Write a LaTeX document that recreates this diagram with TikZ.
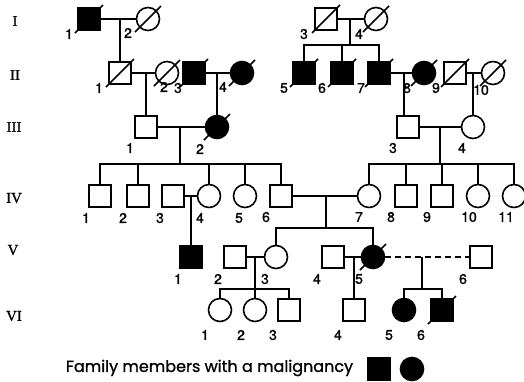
\documentclass[tikz,border=0pt]{standalone}
\usepackage{fontspec}
\setmainfont{TeX Gyre Heros}
\newfontfamily\numfont[FakeBold=1.3]{TeX Gyre Heros}
\newfontfamily\genfont[FakeBold=1]{Liberation Serif}
\newfontfamily\legfont[FakeBold=1]{Poppins}
\newcommand\deceasedsq[1]{\draw ([shift={(-14,14)}]#1.center) -- ([shift={(14,-14)}]#1.center);}
\newcommand\deceasedci[1]{\draw ([shift={(-13,13)}]#1.center) -- ([shift={(13,-13)}]#1.center);}
\begin{document}
\begin{tikzpicture}[x=1pt,y=-1pt,
  line width=1.6pt,
  sq/.style={draw, rectangle, minimum size=22pt, inner sep=0pt},
  ci/.style={draw, circle, minimum size=23pt, inner sep=0pt},
  aff/.style={fill=black},
  num/.style={font=\numfont\fontsize{14}{14}\selectfont, inner sep=0pt},
  gen/.style={font=\genfont\fontsize{15}{15}\selectfont, inner sep=0pt},
  dsh/.style={dash pattern=on 6pt off 4pt}]
\useasboundingbox (0,0) rectangle (524,381);

% generation labels
\node[gen] (gI) at (15,21) {I};
\node[gen] (gII) at (15,75) {II};
\node[gen] (gIII) at (14,127) {III};
\node[gen] (gIV) at (14,198) {IV};
\node[gen] (gV) at (13,250) {V};
\node[gen] (gVI) at (14,316) {VI};

% generation I
\node[sq,aff] (I1) at (89,19) {};
\node[ci] (I2) at (148,19) {};
\node[sq] (I3) at (326,19) {};
\node[ci] (I4) at (376,19) {};
% generation II
\node[sq] (II1) at (120,73) {};
\node[ci] (II2) at (167,73) {};
\node[sq,aff] (II3) at (194,73) {};
\node[ci,aff] (II4) at (242,73) {};
\node[sq,aff] (II5) at (304,73) {};
\node[sq,aff] (II6) at (342,73) {};
\node[sq,aff] (II7) at (379,73) {};
\node[ci,aff] (II8) at (424,73) {};
\node[sq] (II9) at (455,73) {};
\node[ci] (II10) at (493,73) {};
% generation III
\node[sq] (III1) at (146,127) {};
\node[ci,aff] (III2) at (217,127) {};
\node[sq] (III3) at (408,127) {};
\node[ci] (III4) at (473,127) {};
% generation IV
\node[sq] (IV1) at (100,196) {};
\node[sq] (IV2) at (138,196) {};
\node[sq] (IV3) at (173,196) {};
\node[ci] (IV4) at (209,196) {};
\node[ci] (IV5) at (245,196) {};
\node[sq] (IV6) at (281,196) {};
\node[ci] (IV7) at (369,196) {};
\node[sq] (IV8) at (406,196) {};
\node[sq] (IV9) at (442,196) {};
\node[ci] (IV10) at (478,196) {};
\node[ci] (IV11) at (514,196) {};
% generation V
\node[sq,aff] (V1) at (191,257) {};
\node[sq] (V2) at (235,257) {};
\node[ci] (V3) at (276,257) {};
\node[sq] (V4) at (333,257) {};
\node[ci,aff] (V5) at (373,257) {};
\node[sq] (V6) at (481,257) {};
% generation VI
\node[ci] (VI1) at (220,310) {};
\node[ci] (VI2) at (255,310) {};
\node[sq] (VI3) at (289,310) {};
\node[sq] (VI4) at (354,310) {};
\node[ci,aff] (VI5) at (404,310) {};
\node[sq,aff] (VI6) at (442,310) {};

% deceased
\deceasedsq{I1}\deceasedci{I2}\deceasedsq{I3}\deceasedci{I4}
\deceasedsq{II1}\deceasedci{II2}\deceasedsq{II3}\deceasedci{II4}
\deceasedsq{II5}\deceasedsq{II6}\deceasedsq{II7}\deceasedci{II8}
\deceasedsq{II9}\deceasedci{II10}
\deceasedci{III2}
\deceasedci{V5}\deceasedsq{VI6}

% connectors I -> II
\draw (I1) -- (I2);
\draw (II1.north) -- (II1 |- I1);
\draw (I3) -- (I4);
\coordinate (m34) at (350,19);
\coordinate (s2) at (350,45);
\draw (m34) -- (s2);
\draw (II5.north) |- (II7.north |- s2) -- (II7.north);
\draw (II6.north) -- (II6 |- s2);
% II -> III
\draw (II1) -- (II2);
\draw (III1.north) -- (III1 |- II1);
\draw (II3) -- (II4);
\draw (III2.north) -- (III2 |- II3);
\draw (II7) -- (II8);
\coordinate (m78) at (404,73);
\draw (m78) -- (m78 |- III3.north);
\draw (II9) -- (II10);
\draw (III4.north) -- (III4 |- II9);
% III -> IV
\draw (III1) -- (III2);
\coordinate (m3a) at (180,127);
\coordinate (s4a) at (180,164);
\draw (m3a) -- (s4a);
\draw (IV1.north) |- (IV6.north |- s4a) -- (IV6.north);
\draw (IV2.north) -- (IV2 |- s4a);
\draw (IV4.north) -- (IV4 |- s4a);
\draw (IV5.north) -- (IV5 |- s4a);
\draw (III3) -- (III4);
\coordinate (m3b) at (440,127);
\coordinate (s4b) at (440,164);
\draw (m3b) -- (s4b);
\draw (IV7.north) |- (IV11.north |- s4b) -- (IV11.north);
\draw (IV8.north) -- (IV8 |- s4b);
\draw (IV9.north) -- (IV9 |- s4b);
\draw (IV10.north) -- (IV10 |- s4b);
% IV -> V
\draw (IV3) -- (IV4);
\draw (V1.north) -- (V1 |- IV3);
\draw (IV6) -- (IV7);
\coordinate (m4b) at (326,196);
\coordinate (s5) at (326,228);
\draw (m4b) -- (s5);
\draw (V3.north) |- (V5.north |- s5) -- (V5.north);
% V -> VI
\draw (V2) -- (V3);
\draw (VI2.north) -- (VI2 |- V2);
\coordinate (s6a) at (255,289);
\draw (VI1.north) |- (VI3.north |- s6a) -- (VI3.north);
\draw (V4) -- (V5);
\draw (VI4.north) -- (VI4 |- V4);
\draw[dsh] (V5) -- (V6);
\coordinate (m5c) at (422,257);
\coordinate (s6c) at (422,289);
\draw (m5c) -- (s6c);
\draw (VI5.north) |- (VI6.north |- s6c) -- (VI6.north);

% labels
\node[num] (lI1) at (69,34) {1};
\node[num] (lI2) at (128,33) {2};
\node[num] (lI3) at (304,34) {3};
\node[num] (lI4) at (359,34) {4};
\node[num] (lII1) at (99,88) {1};
\node[num] (lII2) at (164,87) {2};
\node[num] (lII3) at (178,88) {3};
\node[num] (lII4) at (223,87) {4};
\node[num] (lII5) at (284,88) {5};
\node[num] (lII6) at (322,88) {6};
\node[num] (lII7) at (361,88) {7};
\node[num] (lII8) at (407,88) {8};
\node[num] (lII9) at (436,88) {9};
\node[num] (lII10) at (481,90) {10};
\node[num] (lIII1) at (130,148) {1};
\node[num] (lIII2) at (200,149) {2};
\node[num] (lIII3) at (393,148) {3};
\node[num] (lIII4) at (462,148) {4};
\node[num] (lIV1) at (86,218) {1};
\node[num] (lIV2) at (123,218) {2};
\node[num] (lIV3) at (160,218) {3};
\node[num] (lIV4) at (200,218) {4};
\node[num] (lIV5) at (239,218) {5};
\node[num] (lIV6) at (266,217) {6};
\node[num] (lIV7) at (359,217) {7};
\node[num] (lIV8) at (391,217) {8};
\node[num] (lIV9) at (427,217) {9};
\node[num] (lIV10) at (469,217) {10};
\node[num] (lIV11) at (506,217) {11};
\node[num] (lV1) at (178,279) {1};
\node[num] (lV2) at (218,279) {2};
\node[num] (lV3) at (265,279) {3};
\node[num] (lV4) at (317,279) {4};
\node[num] (lV5) at (359,279) {5};
\node[num] (lV6) at (463,279) {6};
\node[num] (lVI1) at (205,335) {1};
\node[num] (lVI2) at (241,335) {2};
\node[num] (lVI3) at (273,335) {3};
\node[num] (lVI4) at (338,335) {4};
\node[num] (lVI5) at (389,335) {5};
\node[num] (lVI6) at (421,335) {6};

% legend
\node[inner sep=0pt, font=\legfont\fontsize{16}{16}\selectfont] (leg) at (209.5,368) {Family members with a malignancy};
\node[sq,aff] (lsq) at (379,369) {};
\node[ci,aff] (lci) at (412,369) {};
\end{tikzpicture}
\end{document}
